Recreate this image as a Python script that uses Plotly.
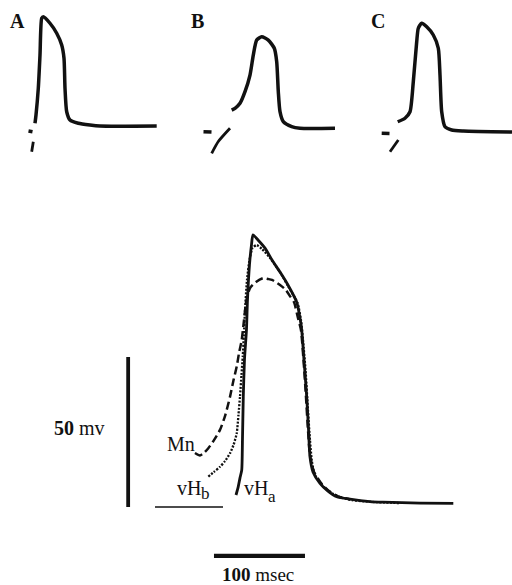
import plotly.graph_objects as go

# ---------------- main panel (time in ms, potential in mV) ----------------
vHa_t = [0, 2.5, 4.4, 6.3, 7.1, 8.0, 9.3, 11.5, 12.6, 14.8, 17.0, 18.7, 24.2, 31.9, 39.6, 48.4,
         57.1, 66.7, 70.3, 72.2, 74.7, 77.7, 79.7, 81.3, 84.6, 92.3, 101.1, 110.7, 125.3, 147.3,
         161.5, 202.2, 238.8]
vHa_v = [4.0, 6.8, 9.7, 12.3, 22.3, 36.7, 49.0, 59.0, 69.0, 80.7, 87.3, 90.7, 89.0, 86.3, 82.3, 78.3,
         74.0, 68.3, 63.0, 59.0, 49.0, 36.7, 25.7, 16.7, 11.7, 7.9, 5.3, 3.4, 2.6, 1.8,
         1.6, 1.3, 1.2]

vHb_t = [-30.4, -24.2, -17.6, -12.1, -6.6, -2.7, 0.8, 2.7, 4.4, 6.0, 7.4, 8.6, 9.9, 12.1, 14.8, 18.1,
         22.7, 28.6, 37.4, 48.4, 57.1, 67.6, 71.4, 73.6, 76.4, 79.1, 81.3, 83.5, 86.8, 94.5, 103.3,
         114.3, 127.5, 149.5, 180.2]
vHb_v = [10.1, 11.7, 13.4, 15.3, 17.9, 20.7, 24.6, 30.7, 36.8, 44.0, 50.1, 57.3, 65.7, 75.7, 82.3, 86.3,
         87.3, 86.0, 83.0, 78.3, 73.7, 68.0, 62.3, 55.7, 45.7, 32.3, 22.3, 15.0, 10.7, 7.3, 5.0,
         3.3, 2.3, 1.7, 1.3]

Mn_t = [-45.1, -39.6, -35.2, -30.4, -24.2, -17.6, -12.1, -6.6, -2.7, 0.8, 3.3, 6.3, 8.8, 11.5, 15.4,
        22.0, 29.7, 35.2, 39.6, 48.4, 54.9, 59.3, 63.7, 68.1, 71.4, 74.2, 76.9, 79.1, 81.3, 85.7,
        93.4, 102.2, 112.1, 125.3]
Mn_v = [18.0, 17.2, 18.0, 19.6, 22.3, 25.7, 30.3, 36.7, 42.3, 46.8, 51.3, 55.7, 62.3, 69.0, 73.0,
        75.0, 76.3, 76.0, 75.7, 74.0, 72.3, 70.3, 68.3, 63.0, 59.0, 49.0, 36.7, 25.7, 17.3, 11.7,
        8.0, 5.3, 3.5, 2.6]

zero_t = [-89.0, -14.3]
zero_v = [0, 0]
mv_bar_t = [-118.5, -118.5]
mv_bar_v = [0, 50]
ms_bar_t = [-24.2, 75.8]
ms_bar_v = [-16.3, -16.3]

# ---------------- insets A, B, C (local ms, mV) ----------------
A_t = [0, 2, 6.6, 10, 13.4, 16.6, 30, 43.4, 53.4, 58, 60, 63.4, 70, 86.6, 110, 130, 243.4]
A_v = [2.2, 8.8, 30.2, 56.8, 86.2, 87.4, 82.2, 74.2, 64.8, 54.2, 30.2, 11.4, 4.8, 2.2, 0.8, 0, 0]
A_blob_t = [-13, -5]
A_blob_v = [-4.0, -4.6]
A_low_t = [-3.4, -6.6]
A_low_v = [-12.6, -20.6]

B_t = [0, 6.6, 16.6, 26.6, 36.6, 43.2, 50, 60, 73.2, 85.2, 90, 93.2, 96.6, 103.2, 120, 136.6, 206.6]
B_v = [14.6, 16.0, 20.0, 29.3, 42.6, 58.6, 70.6, 73.3, 70.6, 64.0, 53.3, 29.3, 13.3, 5.3, 1.3, 0, 0]
B_blob_t = [-56.4, -40.4]
B_blob_v = [-2.7, -3.0]
B_low_t = [-40, -26.8, -3.4]
B_low_v = [-20, -10.6, 0]

C_t = [0, 14.6, 24.6, 31.2, 38, 41.2, 48, 58, 71.2, 81.2, 84.6, 88, 94.6, 108, 131.2, 228.6]
C_v = [7.8, 10.6, 15.8, 39.8, 71.8, 82.6, 86.6, 83.8, 77.2, 66.6, 45.2, 15.8, 3.8, 1.2, 0.4, -0.4]
C_blob_t = [-32, -16.4]
C_blob_v = [-1.4, -1.6]
C_low_t = [-15.4, 1.2]
C_low_v = [-16.2, -6.8]

W, H = 512, 585
INK = "#111111"
FONT = "Liberation Serif"

fig = go.Figure()

def line(x, y, xa, ya, width, dash="solid"):
    fig.add_trace(go.Scatter(x=x, y=y, xaxis=xa, yaxis=ya, mode="lines",
                             line=dict(color=INK, width=width, dash=dash, shape="spline", smoothing=0.6),
                             hoverinfo="skip", showlegend=False))

# main panel
line(Mn_t, Mn_v, "x", "y", 2.5, "8px,4px")
line(vHb_t, vHb_v, "x", "y", 2.3, "2px,1.5px")
line(vHa_t, vHa_v, "x", "y", 2.8)
line(zero_t, zero_v, "x", "y", 1.6)
line(mv_bar_t, mv_bar_v, "x", "y", 3.8)
line(ms_bar_t, ms_bar_v, "x", "y", 4.2)

# insets
for xa, ya, tt, vv, bt, bv, lt, lv in [
    ("x2", "y2", A_t, A_v, A_blob_t, A_blob_v, A_low_t, A_low_v),
    ("x3", "y3", B_t, B_v, B_blob_t, B_blob_v, B_low_t, B_low_v),
    ("x4", "y4", C_t, C_v, C_blob_t, C_blob_v, C_low_t, C_low_v),
]:
    line(tt, vv, xa, ya, 3.5)
    line(bt, bv, xa, ya, 3.4)
    line(lt, lv, xa, ya, 2.8)

# axis geometry: pixel of local origin and pixels per unit
def rng(px0, ppu, size, invert=False):
    if invert:
        return [-(size - px0) / ppu, px0 / ppu]
    return [-px0 / ppu, (size - px0) / ppu]

hidden = dict(visible=False, showgrid=False, zeroline=False, fixedrange=True)
layout_axes = {}
specs = [("", 236, 0.91, 507, 3.0),
         ("2", 35, 0.5, 126, 1.25),
         ("3", 231.7, 0.5, 128.3, 1.25),
         ("4", 397.7, 0.5, 131.5, 1.25)]
for suf, x0, sx, y0, sy in specs:
    xa = dict(hidden, domain=[0, 1], range=rng(x0, sx, W))
    ya = dict(hidden, domain=[0, 1], range=rng(y0, sy, H, invert=True))
    if suf:
        xa["anchor"] = "y" + suf
        ya["anchor"] = "x" + suf
        xa["overlaying"] = "x"
        ya["overlaying"] = "y"
    layout_axes["xaxis" + suf] = xa
    layout_axes["yaxis" + suf] = ya

ann = []
def text(t, x, y, xref, yref, size, xanchor="center", yanchor="middle"):
    ann.append(dict(text=t, x=x, y=y, xref=xref, yref=yref, showarrow=False,
                    xanchor=xanchor, yanchor=yanchor,
                    font=dict(family=FONT, size=size, color=INK)))

text("Mn", -59.9, 20.9, "x", "y", 20)
text("vH", -67.0, 6.3, "x", "y", 20, xanchor="left")
text("b", -41.0, 4.4, "x", "y", 17, xanchor="left")
text("vH", 6.6, 6.3, "x", "y", 20, xanchor="left")
text("a", 32.6, 3.4, "x", "y", 17, xanchor="left")
text("<b>50</b> mv", -172.5, 26.3, "x", "y", 20)
text("<b>100</b> msec", 24.2, -22.6, "x", "y", 19)
text("<b>A</b>", -36, 84, "x2", "y2", 20)
text("<b>B</b>", -68.0, 85.8, "x3", "y3", 20)
text("<b>C</b>", -40.0, 88.4, "x4", "y4", 20)

fig.update_layout(width=W, height=H, margin=dict(l=0, r=0, t=0, b=0),
                  paper_bgcolor="white", plot_bgcolor="white",
                  showlegend=False, annotations=ann, **layout_axes)

fig.write_html("out.html", config={"displayModeBar": False})
